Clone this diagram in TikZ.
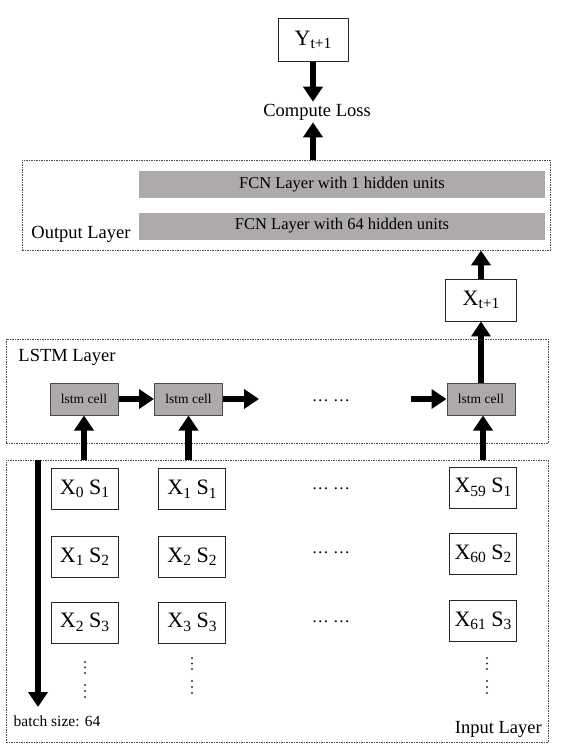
\documentclass[tikz,border=0pt]{standalone}
\usepackage{fontspec}
\setmainfont{Liberation Serif}
\usetikzlibrary{arrows.meta}

\definecolor{cellgray}{RGB}{174,170,170}
\newcommand\lyrfont{\fontsize{18.5}{22}\selectfont}
\newcommand\varfont{\fontsize{22}{26}\selectfont}
\newcommand\cellfnt{\fontsize{13.5}{16}\selectfont}
\newcommand\fcnfnt{\fontsize{16.5}{19}\selectfont}
\newcommand\smallfnt{\fontsize{15.5}{18}\selectfont}
\newcommand\dotsfnt{\fontsize{17}{20}\selectfont}
\newcommand\lowsub[1]{\raisebox{-3.5pt}{\fontsize{15.5}{17}\selectfont #1}}

\begin{document}
\begin{tikzpicture}[
    x=1pt, y=-1pt,
    var box/.style={draw=black!85, line width=0.9pt, fill=white, inner sep=0pt, minimum width=67pt, minimum height=41pt, font=\varfont},
    cell node/.style={draw=black!70, line width=1pt, fill=cellgray, inner sep=0pt, minimum width=68pt, minimum height=32pt, font=\cellfnt},
    fcn node/.style={fill=cellgray, inner sep=0pt, minimum width=406pt, minimum height=27pt, font=\fcnfnt},
    layer box/.style={draw=black!70, line width=0.8pt, dash pattern=on 1.5pt off 1pt, inner sep=0pt},
    main arrow/.style={line width=6.5pt, -{Triangle[width=19pt,length=15pt]}},
    dot mark/.style={circle, fill=black!80, inner sep=0pt, minimum size=2.2pt}
]
\useasboundingbox (0,0) rectangle (564,750);

% top: target and loss
\node[var box, minimum width=70pt, minimum height=43pt] (Ynext) at (313,40) {Y\lowsub{t+1}};
\node[font=\lyrfont, inner sep=2pt] (loss) at (317,112) {Compute Loss};

% output layer
\node[layer box, minimum width=528pt, minimum height=90pt] (OutL) at (286,205) {};
\node[fcn node] (fcn1) at (342,184.5) {FCN Layer with 1 hidden units};
\node[fcn node] (fcn64) at (342,226) {FCN Layer with 64 hidden units};
\node[font=\lyrfont, inner sep=0pt] (outlabel) at (81,234) {Output Layer};

% prediction
\node[var box, minimum width=71pt, minimum height=42pt] (Xnext) at (481,300) {X\lowsub{t+1}};

% LSTM layer
\node[layer box, minimum width=542pt, minimum height=104pt] (LstmL) at (277,391) {};
\node[font=\lyrfont, inner sep=0pt] (lstmlabel) at (67,357) {LSTM Layer};
\node[cell node] (c1) at (84,399) {lstm cell};
\node[cell node] (c2) at (188.5,399) {lstm cell};
\node[cell node] (c3) at (481,399) {lstm cell};
\node[font=\dotsfnt, inner sep=0pt] (cdots) at (331,401) {… …};
\coordinate (c2out) at (259,399);
\coordinate (c3in) at (411,399);

% input layer
\node[layer box, minimum width=542pt, minimum height=282pt] (InL) at (277,601) {};
\node[var box] (in01) at (84.5,489) {X\lowsub{0} S\lowsub{1}};
\node[var box] (in11) at (192,489) {X\lowsub{1} S\lowsub{1}};
\node[var box] (in591) at (483,487.5) {X\lowsub{59} S\lowsub{1}};
\node[var box] (in12) at (84.5,556.5) {X\lowsub{1} S\lowsub{2}};
\node[var box] (in22) at (192,556.5) {X\lowsub{2} S\lowsub{2}};
\node[var box] (in602) at (483,554) {X\lowsub{60} S\lowsub{2}};
\node[var box] (in23) at (84.5,622.5) {X\lowsub{2} S\lowsub{3}};
\node[var box] (in33) at (192,622.5) {X\lowsub{3} S\lowsub{3}};
\node[var box] (in613) at (483,621) {X\lowsub{61} S\lowsub{3}};
\node[font=\dotsfnt, inner sep=0pt] (rdots1) at (331,489) {… …};
\node[font=\dotsfnt, inner sep=0pt] (rdots2) at (331,553) {… …};
\node[font=\dotsfnt, inner sep=0pt] (rdots3) at (331,622) {… …};
\foreach \y in {662,667.5,673,685,691,697} \node[dot mark] at (85,\y) {};
\foreach \y in {658,663.5,669,681,687,693} \node[dot mark] at (192,\y) {};
\foreach \y in {658,663.5,669,681,687,693} \node[dot mark] at (487,\y) {};
\coordinate (batchend) at (38,707);
\node[font=\smallfnt, inner sep=0pt] (batchlabel) at (57,721) {batch size: 64};
\node[font=\lyrfont, inner sep=0pt, anchor=east] (inlabel) at (542,729) {Input Layer};

% connectors
\draw[main arrow] (Ynext.south) -- (Ynext.south |- loss.north);
\draw[main arrow] (Ynext.south |- OutL.north) -- (Ynext.south |- loss.south);
\draw[main arrow] (Xnext.north) -- (Xnext.north |- OutL.south);
\draw[main arrow] (c3.north) -- (Xnext.south);
\draw[main arrow] (c1.east) -- (c2.west);
\draw[main arrow] (c2.east) -- (c2out);
\draw[main arrow] (c3in) -- (c3.west);
\draw[main arrow] (c1.south |- InL.north) -- (c1.south);
\draw[main arrow] (c2.south |- InL.north) -- (c2.south);
\draw[main arrow] (in591.north |- InL.north) -- (in591.north |- c3.south);
\draw[main arrow] (batchend |- InL.north) -- (batchend);

\end{tikzpicture}
\end{document}
